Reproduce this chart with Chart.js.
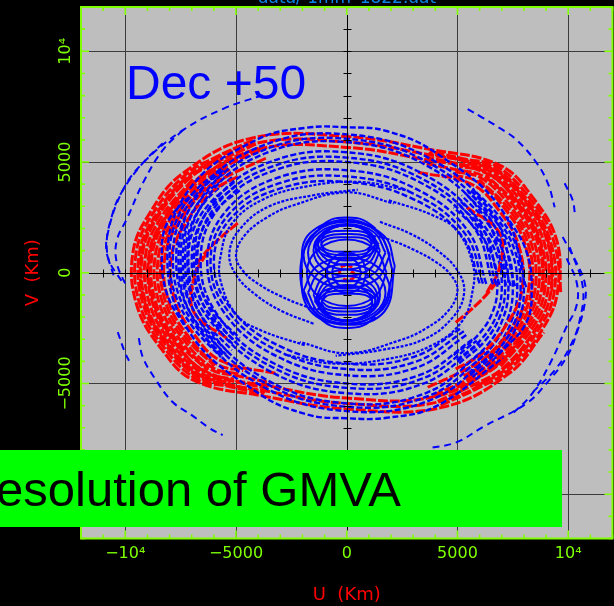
<!DOCTYPE html>
<html><head><meta charset="utf-8">
<style>html,body{margin:0;padding:0;background:#000}canvas{display:block}</style>
<script src="https://cdn.jsdelivr.net/npm/chart.js@4"></script></head>
<body><div style="width:614px;height:606px"><canvas id="c" width="614" height="606"></canvas></div>
<script>
const tickLabels={"-10000":"−10⁴","-5000":"−5000","0":"0","5000":"5000","10000":"10⁴"};
const titleText="data/ 1mm_1822.dat", xTitle="U  (Km)", yTitle="V  (Km)", noteText="Dec +50", boxText="resolution of GMVA";
// blue: outer arcs
const oa1=[[-3790,8020],[-5510,7430],[-7400,6440],[-9210,4950],[-10110,3730],[-10790,1790],[-10790,700],[-10110,-470]];
const oa2=[[-8310,5850],[-9210,4950],[-10110,3730],[-10570,2690],[-10840,1150],[-10470,-330]];
const oa3=[[-7400,6440],[-8310,5535],[-9210,4040],[-9890,2510],[-10380,1470],[-10380,430],[-9930,-650]];
const oa4=[[-9390,-2950],[-9210,-3810],[-8670,-4760],[-7860,-5840],[-7000,-6430],[-6190,-7020],[-5600,-7330]];
const oa5=[[-10340,-2680],[-10020,-3590],[-9800,-4040]];
const oa6=[[9750,1610],[10385,430],[10750,-470],[10750,-1370],[10385,-2720],[9930,-3810],[9030,-4980],[8130,-5890],[6140,-6970],[4970,-7650],[3750,-7920]];
const oa7=[[10070,1150],[10660,-650],[10520,-2140],[10070,-3360],[9390,-4400],[8490,-5300]];
const oa8=[[9930,650],[10380,-430],[10380,-1470],[9890,-2510],[9210,-4040],[8310,-5535],[7400,-6440]];
const oa9=[[5460,7390],[6100,7020],[6910,6530],[7680,5990],[8580,4950],[9080,4040],[9390,2960]];
const oa10=[[9840,4040],[10200,3280],[10300,2690]];
// blue: spiral arms
const s1=[[1000,1700],[1900,1500],[3000,1050],[4000,500],[4700,-100],[5000,-800],[4600,-1700],[3600,-2500],[2400,-3050],[0,-3630],[-2120,-3130]];
const s2=[[-1000,-1700],[-1900,-1500],[-3000,-1050],[-4000,-500],[-4700,100],[-5000,800],[-4600,1700],[-3600,2500],[-2400,3050],[0,3630],[2120,3130]];
const s3=[[1500,2300],[2900,1750],[4100,1000],[5000,100],[5300,-900],[4800,-2000],[3500,-3000],[1500,-3500],[-500,-3750]];
const s4=[[-1500,-2300],[-2900,-1750],[-4100,-1000],[-5000,-100],[-5300,900],[-4800,2000],[-3500,3000],[-1500,3500],[500,3750]];
const s5=[[1900,3270],[3880,2600],[4960,1920],[5690,400],[5690,-780],[5200,-2200],[3800,-3300],[1800,-3900],[-600,-4100],[-2800,-3700]];
const s6=[[-1900,-3270],[-3880,-2600],[-4960,-1920],[-5690,-400],[-5690,780],[-5200,2200],[-3800,3300],[-1800,3900],[600,4100],[2800,3700]];
// blue: ring loops
const l1=[[6000,-480],[5220,1630],[3000,3327],[0,4100],[-3000,3807],[-5220,2470],[-6000,480],[-5220,-1630],[-3000,-3327],[0,-4100],[3000,-3807],[5220,-2470]];
const l2=[[6150,-492],[5350,1745],[3075,3539],[0,4350],[-3075,4031],[-5350,2605],[-6150,492],[-5350,-1745],[-3075,-3539],[0,-4350],[3075,-4031],[5350,-2605]];
const l3=[[6300,-504],[5481,1874],[3150,3776],[0,4630],[-3150,4280],[-5481,2756],[-6300,504],[-5481,-1874],[-3150,-3776],[0,-4630],[3150,-4280],[5481,-2756]];
const l4=[[6600,-528],[5742,2038],[3300,4086],[0,5000],[-3300,4614],[-5742,2962],[-6600,528],[-5742,-2038],[-3300,-4086],[0,-5000],[3300,-4614],[5742,-2962]];
const l5=[[6750,-540],[5873,2128],[3375,4254],[0,5200],[-3375,4794],[-5873,3072],[-6750,540],[-5873,-2128],[-3375,-4254],[0,-5200],[3375,-4794],[5873,-3072]];
const l6=[[6900,-552],[6003,2237],[3450,4457],[0,5440],[-3450,5009],[-6003,3203],[-6900,552],[-6003,-2237],[-3450,-4457],[0,-5440],[3450,-5009],[6003,-3203]];
const l7=[[7200,-576],[6264,2446],[3600,4845],[0,5900],[-3600,5421],[-6264,3454],[-7200,576],[-6264,-2446],[-3600,-4845],[0,-5900],[3600,-5421],[6264,-3454]];
const l8=[[7400,-592],[6438,2507],[3700,4967],[0,6050],[-3700,5559],[-6438,3543],[-7400,592],[-6438,-2507],[-3700,-4967],[0,-6050],[3700,-5559],[6438,-3543]];
const l9=[[7600,-608],[6612,2593],[3800,5133],[0,6250],[-3800,5741],[-6612,3657],[-7600,608],[-6612,-2593],[-3800,-5133],[0,-6250],[3800,-5741],[6612,-3657]];
const l10=[[8100,-650],[7050,2770],[4050,5400],[1800,6400],[0,6570],[-1800,6550],[-4050,6020],[-7050,3850],[-8100,650],[-7050,-2770],[-4050,-5400],[-1800,-6400],[0,-6570],[1800,-6550],[4050,-6020],[7050,-3850]];
// blue: dense side arcs
const a1=[[4970,-3942],[6090,-2990],[6790,-1846],[7000,-560],[6790,754],[6090,2010],[4970,3158]];
const a2=[[5183,-4314],[6351,-3261],[7081,-1999],[7300,-584],[7081,861],[6351,2239],[5183,3496]];
const a3=[[5467,-4549],[6699,-3439],[7469,-2109],[7700,-616],[7469,907],[6699,2361],[5467,3687]];
const a4=[[5680,-4708],[6960,-3560],[7760,-2184],[8000,-640],[7760,936],[6960,2440],[5680,3812]];
const a5=[[6850,-3700],[8100,-2270],[8350,-668],[8100,1000],[7260,2516]];
const a6=[[-4970,3942],[-6090,2990],[-6790,1846],[-7000,560],[-6790,-754],[-6090,-2010],[-4970,-3158]];
const a7=[[-5183,4314],[-6351,3261],[-7081,1999],[-7300,584],[-7081,-861],[-6351,-2239],[-5183,-3496]];
const a8=[[-5467,4549],[-6699,3439],[-7469,2109],[-7700,616],[-7469,-907],[-6699,-2361],[-5467,-3687]];
const a9=[[-5680,4708],[-6960,3560],[-7760,2184],[-8000,640],[-7760,-936],[-6960,-2440],[-5680,-3812]];
const a10=[[-6850,3700],[-8100,2270],[-8350,668],[-8100,-1000],[-7260,-2516]];
const a11=[[4828,-3718],[5916,-2826],[6596,-1752],[6800,-544],[6596,692],[5916,1874],[4828,2955]];
const a12=[[5076,-4092],[6220,-3100],[6935,-1910],[7150,-572],[6935,794],[6220,2100],[5076,3292]];
const a13=[[5325,-4467],[6525,-3375],[7275,-2067],[7500,-600],[7275,897],[6525,2325],[5325,3627]];
const a14=[[5574,-4629],[6830,-3500],[7615,-2146],[7850,-628],[7615,922],[6830,2400],[5574,3749]];
const a15=[[-4828,3718],[-5916,2826],[-6596,1752],[-6800,544],[-6596,-692],[-5916,-1874],[-4828,-2955]];
const a16=[[-5076,4092],[-6220,3100],[-6935,1910],[-7150,572],[-6935,-794],[-6220,-2100],[-5076,-3292]];
const a17=[[-5325,4467],[-6525,3375],[-7275,2067],[-7500,600],[-7275,-897],[-6525,-2325],[-5325,-3627]];
const a18=[[-5574,4629],[-6830,3500],[-7615,2146],[-7850,628],[-7615,-922],[-6830,-2400],[-5574,-3749]];
// blue: central cluster
const c1=[[2100,0],[1500,1700],[0,2400],[-1500,1700],[-2100,0],[-1500,-1700],[0,-2300],[1500,-1700],[2100,0]];
const c2=[[1400,1150],[990,1860],[0,2150],[-990,1860],[-1400,1150],[-990,440],[0,150],[990,440],[1400,1150]];
const c3=[[1500,1000],[1060,1815],[0,2150],[-1060,1815],[-1500,1000],[-1060,185],[0,-150],[1060,185],[1500,1000]];
const c4=[[1300,1250],[920,1890],[0,2150],[-920,1890],[-1300,1250],[-920,610],[0,350],[920,610],[1300,1250]];
const c5=[[1150,1350],[815,1915],[0,2150],[-815,1915],[-1150,1350],[-815,785],[0,550],[815,785],[1150,1350]];
const c6=[[1750,900],[1240,1820],[0,2200],[-1240,1820],[-1750,900],[-1240,-20],[0,-400],[1240,-20],[1750,900]];
const c7=[[1950,800],[1385,1865],[0,2300],[-1385,1865],[-1950,800],[-1385,-265],[0,-700],[1385,-265],[1950,800]];
const c8=[[2170,300],[1700,1650],[0,2350],[-1700,1750],[-2030,300],[-1700,-1650],[0,-2350],[1700,-1750],[2170,300]];
const c9=[[1800,0],[1300,1050],[0,1500],[-1300,1050],[-1800,0],[-1300,-1050],[0,-1500],[1300,-1050],[1800,0]];
const d2=[[-1400,-1150],[-990,-1860],[0,-2150],[990,-1860],[1400,-1150],[990,-440],[0,-150],[-990,-440],[-1400,-1150]];
const d3=[[-1500,-1000],[-1060,-1815],[0,-2150],[1060,-1815],[1500,-1000],[1060,-185],[0,150],[-1060,-185],[-1500,-1000]];
const d4=[[-1300,-1250],[-920,-1890],[0,-2150],[920,-1890],[1300,-1250],[920,-610],[0,-350],[-920,-610],[-1300,-1250]];
const d5=[[-1150,-1350],[-815,-1915],[0,-2150],[815,-1915],[1150,-1350],[815,-785],[0,-550],[-815,-785],[-1150,-1350]];
const d6=[[-1750,-900],[-1240,-1820],[0,-2200],[1240,-1820],[1750,-900],[1240,20],[0,400],[-1240,20],[-1750,-900]];
const d7=[[-1950,-800],[-1385,-1865],[0,-2300],[1385,-1865],[1950,-800],[1385,265],[0,700],[-1385,265],[-1950,-800]];
const e1=[[900,0],[640,640],[0,900],[-640,640],[-900,0],[-640,-640],[0,-900],[640,-640],[900,0]];
const e2=[[650,0],[460,460],[0,650],[-460,460],[-650,0],[-460,-460],[0,-650],[460,-460],[650,0]];
const e3=[[1300,2000],[700,2400],[0,2490],[-700,2400],[-1300,2000]];
const e4=[[-1300,-2000],[-700,-2400],[0,-2490],[700,-2400],[1300,-2000]];
const f1=[[1450,1275],[1000,1750],[0,1900],[-1000,1750],[-1450,1275],[-1000,800],[0,650],[1000,800],[1450,1275]];
const f2=[[1300,1275],[900,1650],[0,1750],[-900,1650],[-1300,1275],[-900,900],[0,800],[900,900],[1300,1275]];
const f3=[[1150,1275],[800,1550],[0,1600],[-800,1550],[-1150,1275],[-800,1000],[0,950],[800,1000],[1150,1275]];
const g1=[[-1450,-1275],[-1000,-1750],[0,-1900],[1000,-1750],[1450,-1275],[1000,-800],[0,-650],[-1000,-800],[-1450,-1275]];
const g2=[[-1300,-1275],[-900,-1650],[0,-1750],[900,-1650],[1300,-1275],[900,-900],[0,-800],[-900,-900],[-1300,-1275]];
const g3=[[-1150,-1275],[-800,-1550],[0,-1600],[800,-1550],[1150,-1275],[800,-1000],[0,-950],[-800,-1000],[-1150,-1275]];
// red: full loops
const r1=[[9660,-880],[9480,1470],[8400,3400],[6900,4860],[3800,5560],[0,6150],[-4300,6080],[-7400,4490],[-8900,2690],[-9660,880],[-9480,-1470],[-8400,-3400],[-6900,-4860],[-3800,-5560],[0,-6150],[4300,-6080],[7400,-4490],[8900,-2690]];
const r2=[[9270,-845],[9100,1410],[8065,3265],[6625,4665],[3650,5340],[0,5905],[-4130,5835],[-7105,4310],[-8545,2580],[-9270,845],[-9100,-1410],[-8065,-3265],[-6625,-4665],[-3650,-5340],[0,-5905],[4130,-5835],[7105,-4310],[8545,-2580]];
const r3=[[8890,-810],[8720,1350],[7730,3130],[6350,4470],[3500,5115],[0,5660],[-3955,5595],[-6810,4130],[-8190,2475],[-8890,810],[-8720,-1350],[-7730,-3130],[-6350,-4470],[-3500,-5115],[0,-5660],[3955,-5595],[6810,-4130],[8190,-2475]];
// red: left side arcs
const rl1=[[-4235,5990],[-5910,5220],[-7290,4420],[-8770,2650],[-9515,865],[-9340,-1450],[-8275,-3350],[-6800,-4790],[-5420,-5120],[-3745,-5475]];
const rl2=[[-5820,5140],[-7180,4355],[-8630,2610],[-9370,855],[-9195,-1425],[-8150,-3300],[-6690,-4715],[-5335,-5045],[-3690,-5395]];
const rl3=[[-4105,5805],[-5730,5060],[-7065,4290],[-8500,2570],[-9225,840],[-9055,-1405],[-8020,-3245],[-6590,-4640],[-5250,-4965]];
const rl4=[[-6955,4220],[-8365,2530],[-9080,825],[-8910,-1380],[-7895,-3195],[-6485,-4570],[-5170,-4890],[-3570,-5225]];
const rl5=[[-3980,5625],[-5550,4900],[-6845,4155],[-8230,2490],[-8935,815],[-8770,-1360],[-7770,-3145],[-6380,-4495],[-5090,-4810]];
const rl6=[[-3915,5530],[-5460,4825],[-6735,4085],[-8100,2450],[-8790,800],[-8625,-1340],[-7645,-3095],[-6280,-4420]];
const rl7=[[-5370,4745],[-6625,4020],[-7965,2410],[-8645,790],[-8485,-1315],[-7520,-3045],[-6175,-4350],[-4925,-4655],[-3400,-4975]];
const rl8=[[-5280,4665],[-6510,3950],[-7830,2365],[-8500,775],[-8340,-1295],[-7390,-2990],[-6070,-4275],[-4840,-4575]];
const rl9=[[-6400,3885],[-7700,2325],[-8355,760],[-8200,-1270],[-7265,-2940],[-5970,-4205]];
const rl10=[[-3655,5170],[-5100,4505],[-6290,3815],[-7565,2285],[-8210,750],[-8060,-1250],[-7140,-2890],[-5865,-4130],[-4675,-4420]];
const rl11=[[-4920,4345],[-6070,3680],[-7300,2205],[-7920,720],[-7775,-1205],[-6890,-2790],[-5660,-3985],[-3115,-4560]];
// red: right side arcs
const rr1=[[4235,-5990],[5910,-5220],[7290,-4420],[8770,-2650],[9515,-865],[9340,1450],[8275,3350],[6800,4790],[5420,5120],[3745,5475]];
const rr2=[[5820,-5140],[7180,-4355],[8630,-2610],[9370,-855],[9195,1425],[8150,3300],[6690,4715],[5335,5045],[3690,5395]];
const rr3=[[4105,-5805],[5730,-5060],[7065,-4290],[8500,-2570],[9225,-840],[9055,1405],[8020,3245],[6590,4640],[5250,4965]];
const rr4=[[6955,-4220],[8365,-2530],[9080,-825],[8910,1380],[7895,3195],[6485,4570],[5170,4890],[3570,5225]];
const rr5=[[3980,-5625],[5550,-4900],[6845,-4155],[8230,-2490],[8935,-815],[8770,1360],[7770,3145],[6380,4495],[5090,4810]];
const rr6=[[3915,-5530],[5460,-4825],[6735,-4085],[8100,-2450],[8790,-800],[8625,1340],[7645,3095],[6280,4420]];
const rr7=[[5370,-4745],[6625,-4020],[7965,-2410],[8645,-790],[8485,1315],[7520,3045],[6175,4350],[4925,4655],[3400,4975]];
const rr8=[[5280,-4665],[6510,-3950],[7830,-2365],[8500,-775],[8340,1295],[7390,2990],[6070,4275],[4840,4575]];
const rr9=[[6400,-3885],[7700,-2325],[8355,-760],[8200,1270],[7265,2940],[5970,4205]];
const rr10=[[3655,-5170],[5100,-4505],[6290,-3815],[7565,-2285],[8210,-750],[8060,1250],[7140,2890],[5865,4130],[4675,4420]];
const rr11=[[4920,-4345],[6070,-3680],[7300,-2205],[7920,-720],[7775,1205],[6890,2790],[5660,3985],[3115,4560]];
// red: inner spirals
const ri1=[[-4920,2240],[-5630,1650],[-6300,1000],[-6770,430]];
const ri2=[[4920,-2240],[5630,-1650],[6300,-1000],[6770,-430]];
const ri3=[[5420,2960],[6900,1790],[6900,250],[6320,-910]];
const ri4=[[-5420,-2960],[-6900,-1790],[-6900,-250],[-6320,910]];
// red: centre
const rc1=[[250,250],[0,330],[-280,250],[-330,50],[-200,-60]];
const rc2=[[200,60],[330,-50],[280,-250],[0,-330],[-250,-250]];
const rc3=[[-150,620],[100,580]];
const rc4=[[150,-620],[-100,-580]];

const styles={
 outer:{c:'#0000ff',w:2,d:[7,5]},
 ring:{c:'#0000ff',w:2.4,d:[6,2.5]},
 mid:{c:'#0000ff',w:2.2,d:[3,1.5]},
 core:{c:'#0000ff',w:2,d:[]},
 red:{c:'#ff0000',w:3,d:[10,2]},
 redCore:{c:'#ff0000',w:3,d:[5,2]}
};
const layers=[
 ['mid',[s1,s2,s3,s4,s5,s6]],
 ['ring',[l1,l2,l3,l4,l5,l6,l7,l8,l9,l10]],
 ['ring',[a5,a10,a4,a9,a14,a18]],
 ['outer',[oa1,oa2,oa3,oa4,oa5,oa6,oa7,oa8,oa9,oa10]],
 ['red',[r1,r2,r3,rl1,rl2,rl3,rl4,rl5,rl6,rl7,rl8,rl9,rl10,rl11,rr1,rr2,rr3,rr4,rr5,rr6,rr7,rr8,rr9,rr10,rr11,ri1,ri2,ri3,ri4]],
 ['ring',[a1,a2,a3,a6,a7,a8,a11,a12,a13,a15,a16,a17]],
 ['core',[c1,c2,c3,c4,c5,c6,c7,c8,c9,d2,d3,d4,d5,d6,d7,e1,e2,e3,e4,f1,f2,f3,g1,g2,g3]],
 ['redCore',[rc1,rc2,rc3,rc4]]
];
const datasets=[];
layers.forEach(([s,tracks])=>tracks.forEach(t=>{const k=styles[s];datasets.push({
  data:t.map(([x,y])=>({x,y})),showLine:true,borderColor:k.c,borderWidth:k.w,borderDash:k.d,pointRadius:0,tension:.4,fill:false});}));

const LIME='#7fff00';
const deco={id:'deco',
 beforeDraw(ch){const g=ch.ctx,a=ch.chartArea;g.save();g.fillStyle='#000';g.fillRect(0,0,ch.width,ch.height);
  g.fillStyle='#bebebe';g.fillRect(a.left,a.top,a.right-a.left,a.bottom-a.top);
  g.fillStyle='#0a84e8';g.font='17px "DejaVu Sans"';g.textAlign='center';g.textBaseline='alphabetic';g.fillText(titleText,347,3);g.restore();},
 afterDraw(ch){const g=ch.ctx,a=ch.chartArea,X=ch.scales.x,Y=ch.scales.y;g.save();
  const x0=Math.round(X.getPixelForValue(0))+.5,y0=Math.round(Y.getPixelForValue(0))+.5;
  g.strokeStyle='#000';g.lineWidth=1;g.beginPath();
  g.moveTo(a.left+8,y0);g.lineTo(a.right-8,y0);g.moveTo(x0,a.top+8);g.lineTo(x0,a.bottom-8);
  for(let v=-11000;v<=11000;v+=1000){const px=Math.round(X.getPixelForValue(v))+.5,py=Math.round(Y.getPixelForValue(v))+.5;
   g.moveTo(px,y0-4);g.lineTo(px,y0+4);g.moveTo(x0-4,py);g.lineTo(x0+4,py);}
  g.stroke();
  g.strokeStyle=LIME;g.lineWidth=1.6;g.beginPath();
  for(let v=-12000;v<=12000;v+=1000){const L=v%5000===0?8:4,px=X.getPixelForValue(v),py=Y.getPixelForValue(v);
   g.moveTo(px,a.top);g.lineTo(px,a.top+L);g.moveTo(px,a.bottom);g.lineTo(px,a.bottom-L);
   g.moveTo(a.left,py);g.lineTo(a.left+L,py);g.moveTo(a.right,py);g.lineTo(a.right-L,py);}
  g.stroke();g.lineWidth=2;g.strokeRect(a.left,a.top,a.right-a.left,a.bottom-a.top);
  g.textBaseline='alphabetic';g.fillStyle='#0000ff';g.font='48px "Liberation Sans"';g.textAlign='left';g.fillText(noteText,126,99);
  g.fillStyle='#00ff00';g.fillRect(-2,450,564,77);
  g.fillStyle='#000';g.font='49px "Liberation Sans"';g.textAlign='right';g.fillText(boxText,401,506);
  g.restore();}
};
const tickFont={family:'"DejaVu Sans"',size:16};
const label=v=>tickLabels[String(v)]||'';
const gridCol=c=>{const v=c.tick&&c.tick.value;return v===0||v%5000!==0?'rgba(0,0,0,0)':'#3c3c3c';};
const noPad=s=>{s.paddingLeft=0;s.paddingRight=0;s.paddingTop=0;s.paddingBottom=0;};
new Chart(document.getElementById('c'),{type:'scatter',data:{datasets},plugins:[deco],options:{
 responsive:false,animation:false,events:[],layout:{padding:{top:7,right:1.5,left:0,bottom:0}},
 plugins:{legend:{display:false},tooltip:{enabled:false},title:{display:false}},
 scales:{
  x:{type:'linear',min:-12000,max:12000,afterFit:s=>{s.height=67.5;noPad(s);},
   border:{display:false},grid:{color:gridCol,lineWidth:1,drawTicks:false},
   ticks:{stepSize:1000,autoSkip:false,maxRotation:0,minRotation:0,color:LIME,font:tickFont,padding:6,callback:label},
   title:{display:true,text:xTitle,color:'#ff0000',font:{family:'"DejaVu Sans"',size:18},padding:{top:0,bottom:0}}},
  y:{type:'linear',min:-12000,max:12000,afterFit:s=>{s.width=81;noPad(s);},
   border:{display:false},grid:{color:gridCol,lineWidth:1,drawTicks:false},
   ticks:{stepSize:1000,autoSkip:false,minRotation:90,maxRotation:90,crossAlign:'center',color:LIME,font:tickFont,padding:-12,callback:label},
   title:{display:true,text:yTitle,color:'#ff0000',font:{family:'"DejaVu Sans"',size:18},padding:{top:23,bottom:0}}}
 }}});
</script></body></html>
